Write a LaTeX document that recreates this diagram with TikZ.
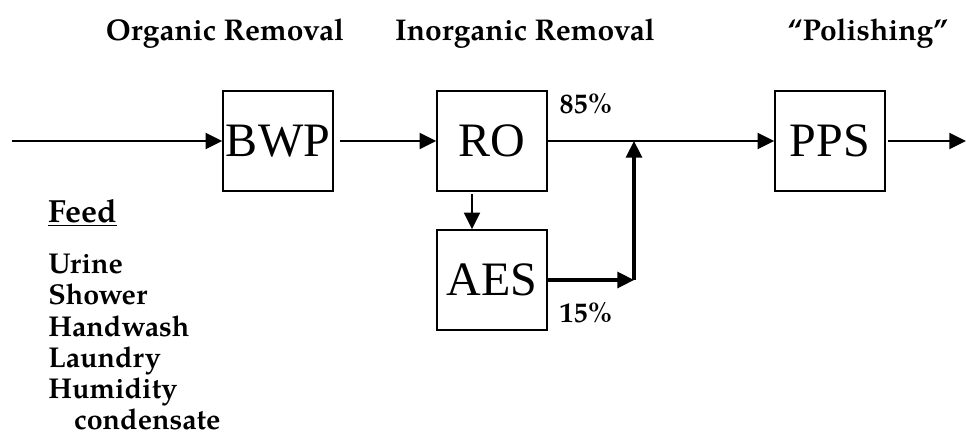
\documentclass[tikz,border=0pt]{standalone}
\usepackage{fontspec}
\usepackage{tikz}
\usetikzlibrary{arrows.meta,calc,positioning}
\newfontfamily\boxfont{Liberation Serif}
\newfontfamily\labelfont{texgyrepagella-bold.otf}
\tikzset{
  every picture/.append style={line cap=butt,line join=miter},
  wrs box/.style={draw,line width=1.1pt,minimum width=82.5pt,minimum height=75pt,inner sep=0pt,
    font=\boxfont\fontsize{36}{36}\selectfont},
  wrs flow/.style={line width=1.6pt,-{Triangle[length=12.5pt,width=12pt]}},
  wrs heavy/.style={line width=2.4pt,-{Triangle[length=12.5pt,width=12pt]}},
  wrs title/.style={font=\labelfont\fontsize{22.5}{26}\selectfont},
  wrs note/.style={font=\labelfont\fontsize{21}{24}\selectfont},
  wrs feed/.style={font=\labelfont\fontsize{21.5}{23.4}\selectfont,align=left,inner sep=0pt}
}
\begin{document}
\begin{tikzpicture}[x=0.75pt,y=-0.75pt]
  \useasboundingbox (0,0) rectangle (966,440);
  % stage headings
  \node[wrs title] (organic) at (225,34) {Organic Removal};
  \node[wrs title] (inorganic) at (525,34) {Inorganic Removal};
  \node[wrs title] (polish) at (868,34) {“Polishing”};
  % process boxes
  \node[wrs box] (bwp) at (278,141) {BWP};
  \node[wrs box] (ro) at (492,141) {RO};
  \node[wrs box] (aes) at (492,280) {AES};
  \node[wrs box] (pps) at (830,141) {PPS};
  \coordinate (in) at (12,141);
  \coordinate (out) at (966,141);
  \coordinate (merge) at (634,141);
  \coordinate (join) at (aes.east -| merge);
  % main stream
  \draw[wrs flow] (in) -- (bwp.west);
  \draw[wrs flow, shorten <=5pt] (bwp.east) -- (ro.west);
  \draw[wrs flow] (ro.east) -- (pps.west);
  \draw[wrs flow, shorten <=2pt] (pps.east) -- (out);
  % brine side stream
  \draw[wrs flow, shorten <=2pt] ([xshift=-15pt]ro.south) -- ([xshift=-15pt]aes.north);
  \draw[wrs heavy] (aes.east) -- (join);
  \draw[wrs heavy] (join) -- (merge);
  \node[wrs note] (split85) at (586,104) {85\%};
  \node[wrs note] (split15) at (586,313) {15\%};
  % feed list
  \node[wrs feed, anchor=west, font=\labelfont\fontsize{24}{26}\selectfont] (feed) at (48,213) {\underline{Feed}};
  \node[wrs feed, anchor=north west] (sources) at (48,254)
    {Urine\\Shower\\Handwash\\Laundry\\Humidity\\\hspace{0.9em}condensate};
\end{tikzpicture}
\end{document}
